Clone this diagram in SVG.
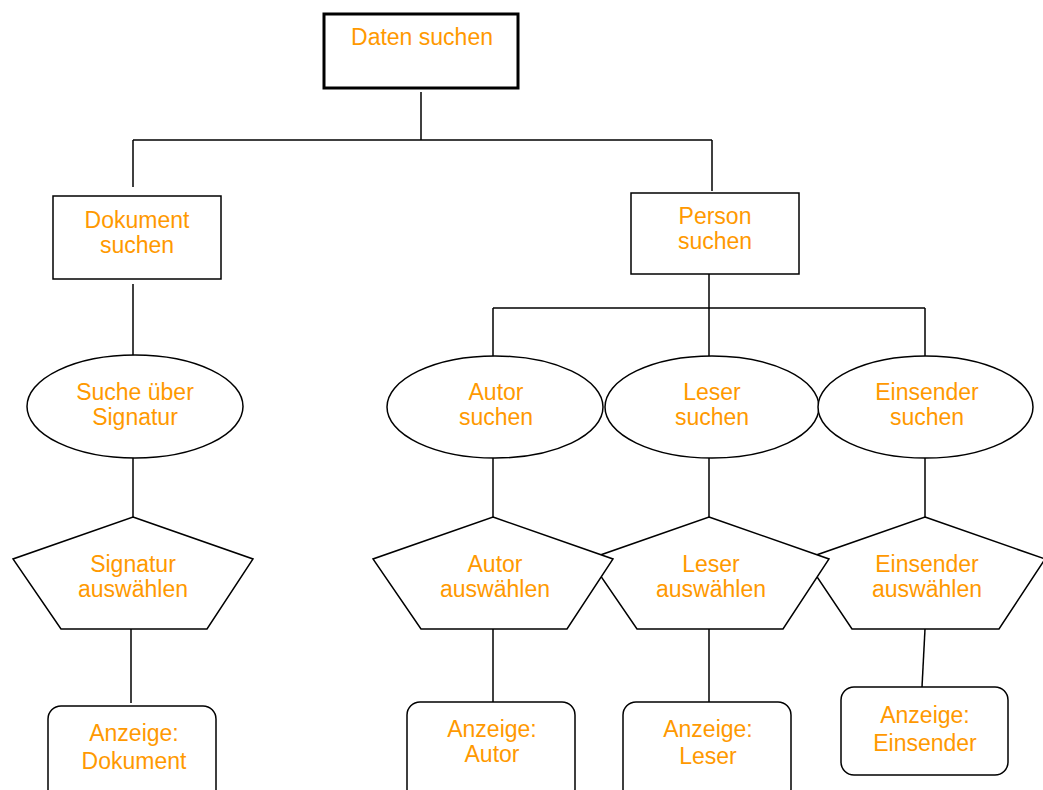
<svg xmlns="http://www.w3.org/2000/svg" width="1043" height="790" viewBox="0 0 1043 790">
<style>
.s{fill:#fff;stroke:#000;stroke-width:1.5}
.t{font-family:"Liberation Sans",Arial,sans-serif;font-size:23px;fill:#FF9900;text-anchor:middle}
.c line{stroke:#000;stroke-width:1.5}
</style>
<rect width="1043" height="790" fill="#fff"/>
<g class="c" id="connectors">
<line x1="421" y1="92" x2="421" y2="140"/>
<line x1="133" y1="140" x2="712" y2="140"/>
<line x1="133" y1="140" x2="133" y2="187"/>
<line x1="712" y1="140" x2="712" y2="191"/>
<line x1="133" y1="284" x2="133" y2="355"/>
<line x1="133" y1="458" x2="133" y2="517"/>
<line x1="131" y1="629" x2="131" y2="703"/>
<line x1="709" y1="274" x2="709" y2="356"/>
<line x1="493" y1="308" x2="925" y2="308"/>
<line x1="493" y1="308" x2="493" y2="356"/>
<line x1="925" y1="308" x2="925" y2="356"/>
<line x1="493" y1="458" x2="493" y2="517"/>
<line x1="709" y1="458" x2="709" y2="517"/>
<line x1="925" y1="458" x2="925" y2="517"/>
<line x1="493" y1="629" x2="493" y2="702"/>
<line x1="709" y1="629" x2="709" y2="702"/>
<line x1="925" y1="629" x2="922" y2="687"/>
</g>
<g id="daten">
<rect x="324" y="14" width="194" height="74" fill="#fff" stroke="#000" stroke-width="3"/>
<text class="t" x="422" y="45">Daten suchen</text>
</g>
<g id="dokument">
<rect class="s" x="53" y="196" width="168" height="83"/>
<text class="t" x="137" y="228">Dokument</text>
<text class="t" x="137" y="253">suchen</text>
</g>
<g id="person">
<rect class="s" x="631" y="193" width="168" height="81"/>
<text class="t" x="715" y="224">Person</text>
<text class="t" x="715" y="249">suchen</text>
</g>
<g id="suche-signatur">
<ellipse class="s" cx="135" cy="406.5" rx="108" ry="51.5"/>
<text class="t" x="135" y="400">Suche über</text>
<text class="t" x="135" y="425">Signatur</text>
</g>
<g id="autor-suchen">
<ellipse class="s" cx="495" cy="407" rx="108" ry="51"/>
<text class="t" x="496" y="400">Autor</text>
<text class="t" x="496" y="425">suchen</text>
</g>
<g id="leser-suchen">
<ellipse class="s" cx="712" cy="407" rx="107" ry="51"/>
<text class="t" x="712" y="400">Leser</text>
<text class="t" x="712" y="425">suchen</text>
</g>
<g id="einsender-suchen">
<ellipse class="s" cx="925.5" cy="407" rx="107.5" ry="51"/>
<text class="t" x="927" y="400">Einsender</text>
<text class="t" x="927" y="425">suchen</text>
</g>
<g id="signatur-auswaehlen">
<polygon class="s" points="133,517 253,559 207,629 61,629 13,559"/>
<text class="t" x="133" y="572">Signatur</text>
<text class="t" x="133" y="597">auswählen</text>
</g>
<g id="einsender-auswaehlen">
<polygon class="s" points="925,517 1045,559 999,629 852,629 805,559"/>
<text class="t" x="927" y="572">Einsender</text>
<text class="t" x="927" y="597">auswählen</text>
</g>
<g id="leser-auswaehlen">
<polygon class="s" points="709,517 829,559 783,629 637,629 589,559"/>
<text class="t" x="711" y="572">Leser</text>
<text class="t" x="711" y="597">auswählen</text>
</g>
<g id="autor-auswaehlen">
<polygon class="s" points="493,517 613,559 567,629 421,629 373,559"/>
<text class="t" x="495" y="572">Autor</text>
<text class="t" x="495" y="597">auswählen</text>
</g>
<g id="anzeige-dokument">
<rect class="s" x="48" y="706" width="168" height="100" rx="13"/>
<text class="t" x="134" y="741">Anzeige:</text>
<text class="t" x="134" y="769">Dokument</text>
</g>
<g id="anzeige-autor">
<rect class="s" x="407" y="702" width="168" height="100" rx="13"/>
<text class="t" x="492" y="737">Anzeige:</text>
<text class="t" x="492" y="762">Autor</text>
</g>
<g id="anzeige-leser">
<rect class="s" x="623" y="702" width="168" height="100" rx="13"/>
<text class="t" x="708" y="737">Anzeige:</text>
<text class="t" x="708" y="764">Leser</text>
</g>
<g id="anzeige-einsender">
<rect class="s" x="841" y="687" width="167" height="88" rx="13"/>
<text class="t" x="925" y="723">Anzeige:</text>
<text class="t" x="925" y="751">Einsender</text>
</g>
</svg>
